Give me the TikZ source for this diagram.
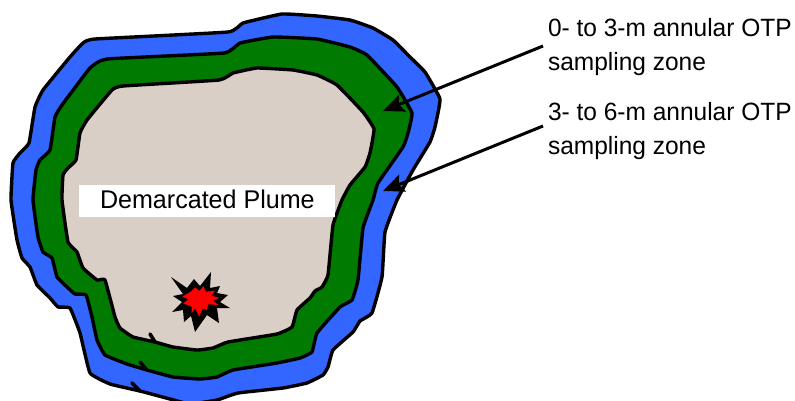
\documentclass[tikz,border=0pt]{standalone}
\usepackage{fontspec}
\setmainfont{Liberation Sans}[FakeStretch=0.98]
\usetikzlibrary{arrows.meta}
\definecolor{zoneblue}{HTML}{3366FF}
\definecolor{zonegreen}{HTML}{007A00}
\definecolor{plume}{HTML}{D9CFC7}
\tikzset{
  zone/.style={draw=black,line width=3.4pt,line join=round},
  nick/.style={draw=black,line width=3.6pt,line cap=round},
  callout/.style={draw=black,line width=3pt,-{Stealth[length=21pt,width=18pt,inset=4pt]}},
  lbl/.style={anchor=base west,inner sep=0pt,outer sep=0pt,font=\fontsize{25}{25}\selectfont},
}
\begin{document}
\begin{tikzpicture}[x=1pt,y=-1pt]
\useasboundingbox (0,0) rectangle (795,400);
\clip (0,0) rectangle (795,400);
% blue zone
\draw[zone,fill=zoneblue] plot[smooth cycle,tension=0.2] coordinates {
(95,39)(228,32)(243,23)(282,14)(317,16)(350,20)(373,28)(393,40)(410,57)(425,72)(440,99)(435,127)(430,142)(413,170)(397,200)(385,232)(382,277)(372,313)(360,321)(353,332)(333,350)(328,367)(323,375)(307,383)(283,388)(238,393)(217,400)(190,404)(170,399)(140,391)(110,384)(90,373)(80,333)(70,308)(58,307)(50,298)(37,285)(30,267)(22,258)(17,240)(11,200)(13,163)(20,153)(29,143)(35,107)(43,90)(70,57)(83,43)};
\draw[nick] (132,383) -- (140,391);
% green zone
\draw[zone,fill=zonegreen] plot[smooth cycle,tension=0.2] coordinates {
(107,59)(224,53)(240,43)(273,37)(317,39)(350,47)(367,55)(397,87)(412,113)(408,133)(403,147)(378,183)(373,200)(363,228)(358,280)(352,300)(340,307)(317,333)(312,352)(300,358)(277,363)(233,370)(217,377)(200,379)(173,377)(147,370)(127,364)(105,355)(97,340)(92,317)(86,295)(75,294)(67,287)(57,277)(52,258)(43,252)(38,237)(33,200)(36,170)(40,160)(50,150)(55,117)(62,105)(90,68)};
\draw[nick] (140,362) -- (146,369);
% plume
\draw[zone,fill=plume] plot[smooth cycle,tension=0.2] coordinates {
(123,86)(219,80)(233,73)(257,68)(293,70)(317,75)(337,85)(363,112)(374,129)(370,153)(365,167)(350,185)(342,200)(333,225)(328,275)(322,287)(315,291)(310,298)(297,310)(292,327)(277,334)(228,342)(213,348)(197,350)(173,347)(155,342)(133,337)(120,328)(115,317)(105,280)(97,280)(83,268)(77,252)(68,242)(62,200)(63,175)(68,168)(76,160)(80,133)(87,120)(112,90)};
\draw[nick] (150,334) -- (155,342);
% label box
\fill[white] (79,185) rectangle (335,217);
\node[lbl,font=\fontsize{25.6}{25.6}\selectfont] (plumelabel) at (100,208) {Demarcated Plume};
% source star
\fill[black] (171,277)--(187,288)--(194,279)--(200,286)--(211,272)--(210,288)--(220,286)--(217,293)--(228,295)--(220,302)--(230,308)--(217,308)--(219,323)--(207,315)--(195,332)--(191,316)--(184,322)--(183,310)--(172,312)--(182,302)--(173,296)--(183,294)--cycle;
\fill[red] (182.3,296.7)--(190.7,291.7)--(195,287.3)--(199.3,291)--(203.3,286)--(206,291.7)--(215,290.7)--(211.7,295.7)--(219,297.7)--(213.3,301)--(218.3,305)--(208.3,304.3)--(206.7,310)--(202.7,308.3)--(199.3,316.7)--(195,308.3)--(191.7,313.3)--(191.7,306.7)--(183.3,303.3)--(188.3,299.3)--cycle;
% labels
\node[lbl] (zonea) at (548,36) {0- to 3-m annular OTP};
\node[lbl] (zoneaa) at (548,70) {sampling zone};
\node[lbl] (zoneb) at (548,120) {3- to 6-m annular OTP};
\node[lbl] (zonebb) at (548,154) {sampling zone};
% callouts
\coordinate (startA) at (543,46);
\coordinate (tipA) at (383,111);
\coordinate (startB) at (543,126);
\coordinate (tipB) at (383,191);
\draw[callout] (startA) -- (tipA);
\draw[callout] (startB) -- (tipB);
\end{tikzpicture}
\end{document}
